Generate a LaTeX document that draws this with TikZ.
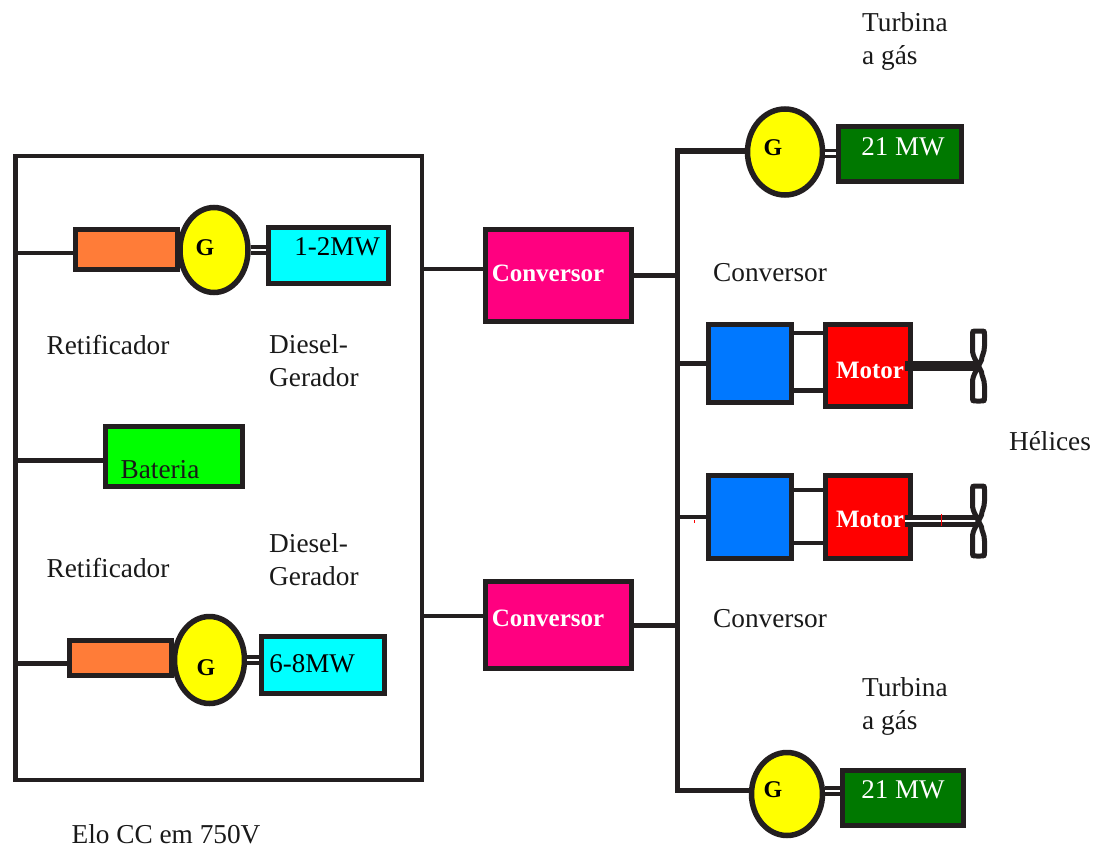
\documentclass[tikz,border=0pt]{standalone}
\usepackage{fontspec}
\setmainfont{Liberation Serif}
\usetikzlibrary{calc,shapes.geometric}
\definecolor{retc}{RGB}{255,124,56}
\definecolor{dslc}{RGB}{0,255,255}
\definecolor{batc}{RGB}{0,255,0}
\definecolor{conc}{RGB}{255,0,128}
\definecolor{turc}{RGB}{0,120,0}
\definecolor{invc}{RGB}{0,120,255}
\definecolor{linc}{RGB}{35,31,32}
\definecolor{genc}{RGB}{255,255,0}
\definecolor{motc}{RGB}{255,0,0}
\tikzset{
  box/.style={rectangle, draw=linc, line width=5pt, inner sep=0pt},
  ret/.style={box, fill=retc},
  dsl/.style={box, fill=dslc},
  bat/.style={box, fill=batc},
  conv/.style={box, fill=conc},
  tur/.style={box, fill=turc},
  inv/.style={box, fill=invc},
  mot/.style={box, fill=motc},
  gen/.style={ellipse, draw=linc, line width=5.5pt, fill=genc, inner sep=0pt},
  lnk/.style={draw=linc, line width=3.5pt},
  lnkb/.style={draw=linc, line width=5pt},
  dbl/.style={draw=linc, line width=3.5pt, double=white, double distance=2.5pt},
  txt/.style={font=\fontsize{27.3}{33}\selectfont, text=black!90, inner sep=0pt, align=left},
  wtxt/.style={font=\fontsize{25}{30}\selectfont\bfseries, text=white, inner sep=0pt},
  mw/.style={font=\fontsize{27}{30}\selectfont, inner sep=0pt},
  gtxt/.style={font=\fontsize{24}{28}\selectfont\bfseries, inner sep=0pt},
  helice/.pic={
    \foreach \s in {1,-1}
      \draw[draw=linc, line width=5pt, fill=white, yscale=\s] (0,0) -- (-3,-6) .. controls (-5,-10) and (-6,-12) .. (-6,-17)
        -- (-6,-31) .. controls (-6,-35) .. (-2,-35) -- (2,-35) .. controls (6,-35) .. (6,-31)
        -- (6,-20) .. controls (6,-13) and (3,-10) .. (3,-6) -- (0,0);
  },
}
\begin{document}
\begin{tikzpicture}[x=1pt,y=-1pt]
\useasboundingbox (0,0) rectangle (1100,848);
% elo CC
\node[draw=linc, line width=3.5pt, minimum width=407pt, minimum height=624pt, inner sep=0pt] (elo) at (218.5,468) {};
\draw[lnkb] (15.5,156) -- (15.5,780);
% diesel 1
\node[ret, minimum width=102pt, minimum height=40pt] (ret1) at (126,249.5) {};
\node[gen, minimum width=68pt, minimum height=85pt] (gen1) at (214,250) {};
\node[dsl, minimum width=120pt, minimum height=56pt] (dsl1) at (328.5,255.5) {};
% bateria
\node[bat, minimum width=137pt, minimum height=60pt] (bat) at (174,456.5) {};
% diesel 2
\node[ret, minimum width=102pt, minimum height=35pt] (ret2) at (120,658) {};
\node[gen, minimum width=70pt, minimum height=87pt] (gen2) at (209.5,660) {};
\node[dsl, minimum width=123pt, minimum height=57pt] (dsl2) at (323,665) {};
% conversores
\node[conv, minimum width=146pt, minimum height=92pt] (conv1) at (558.5,275.5) {};
\node[conv, minimum width=146pt, minimum height=87pt] (conv2) at (558.5,625) {};
% turbinas
\node[gen, minimum width=75pt, minimum height=86pt] (gent) at (785,152) {};
\node[tur, minimum width=123pt, minimum height=55pt] (turt) at (900,154) {};
\node[gen, minimum width=71pt, minimum height=83pt] (genb) at (787,794) {};
\node[tur, minimum width=121pt, minimum height=55pt] (turb) at (903,798) {};
% motores
\node[inv, minimum width=83pt, minimum height=78pt] (inv1) at (750,363.5) {};
\node[mot, minimum width=85pt, minimum height=82pt] (mot1) at (868,365.5) {};
\node[inv, minimum width=83pt, minimum height=83pt] (inv2) at (750,517) {};
\node[mot, minimum width=85pt, minimum height=83pt] (mot2) at (868,517) {};
% pontos livres
\coordinate (a1) at (17,253);
\coordinate (a2) at (17,460);
\coordinate (a3) at (17,663);
\coordinate (c1) at (422,269);
\coordinate (c2) at (422,616);
\coordinate (busb) at (677,790);
\coordinate (hc1) at (978.5,366);
\coordinate (hc2) at (978.5,521);
% ligacoes
\draw[lnk] (a1) -- (ret1.west |- a1);
\draw[lnkb] (a2) -- (bat.west |- a2);
\draw[lnkb] (a3) -- (ret2.west |- a3);
\draw[dbl] (gen1) -- (dsl1.west |- gen1);
\draw[dbl] (gen2) -- (dsl2.west |- gen2);
\draw[dbl] (gent.east |- 0,153.5) -- (turt.west |- 0,153.5);
\draw[dbl] (genb.east |- 0,791) -- (turb.west |- 0,791);
\draw[lnk] (c1) -- (conv1.west |- c1);
\draw[lnk] (c2) -- (conv2.west |- c2);
\draw[lnkb] (gent.west |- 0,151) -| (busb) -- (genb.west |- busb);
\draw[lnkb] (conv1.east) -- (busb |- conv1.east);
\draw[lnkb] (conv2.east) -- (busb |- conv2.east);
\draw[lnkb] (busb |- inv1.west) -- (inv1.west);
\draw[lnk] (busb |- inv2.west) -- (inv2.west);
\draw[lnk] (inv1.east |- 0,333) -- (mot1.west |- 0,333);
\draw[lnkb] (inv1.east |- 0,390) -- (mot1.west |- 0,390);
\draw[lnk] (inv2.east |- 0,490) -- (mot2.west |- 0,490);
\draw[lnk] (inv2.east |- 0,543) -- (mot2.west |- 0,543);
% helices
\draw[draw=linc, line width=10pt] ($(mot1.east |- hc1)+(-8,0)$) -- (hc1);
\draw[draw=linc, line width=5.5pt, double=white, double distance=1.5pt] ($(mot2.east |- hc2)+(-8,0)$) -- (hc2);
\pic (hel1) at (hc1) {helice};
\pic (hel2) at (hc2) {helice};
\draw[red, line width=1pt] (694,520) -- (694,523);
\draw[red, line width=1pt] (941,514) -- (941,526);
% textos
\node[gtxt] (g1) at (205,248) {G};
\node[gtxt] (g2) at (206,668) {G};
\node[gtxt] (g3) at (773,148) {G};
\node[gtxt] (g4) at (773,790) {G};
\node[mw] (p1) at (337,247) {1-2MW};
\node[mw] (p2) at (312,664) {6-8MW};
\node[mw, text=white] (p3) at (903,147) {21 MW};
\node[mw, text=white] (p4) at (903,790) {21 MW};
\node[txt] (tbat) at (160,470) {Bateria};
\node[wtxt] (tc1) at (548,273) {Conversor};
\node[wtxt] (tc2) at (548,618) {Conversor};
\node[wtxt] (tm1) at (870,370) {Motor};
\node[wtxt] (tm2) at (870,519) {Motor};
\node[txt] (r1) at (108,345) {Retificador};
\node[txt] (r2) at (108,568) {Retificador};
\node[txt, anchor=west] (d1) at (269,361) {Diesel-\\Gerador};
\node[txt, anchor=west] (d2) at (269,560) {Diesel-\\Gerador};
\node[txt, anchor=west] (t1) at (862,41) {Turbina\\a gás};
\node[txt, anchor=west] (t2) at (862,706) {Turbina\\a gás};
\node[txt] (cv1) at (770,273) {Conversor};
\node[txt] (cv2) at (770,619) {Conversor};
\node[txt] (hl) at (1050,441) {Hélices};
\node[txt] (el) at (166,834) {Elo CC em 750V};
\end{tikzpicture}
\end{document}
